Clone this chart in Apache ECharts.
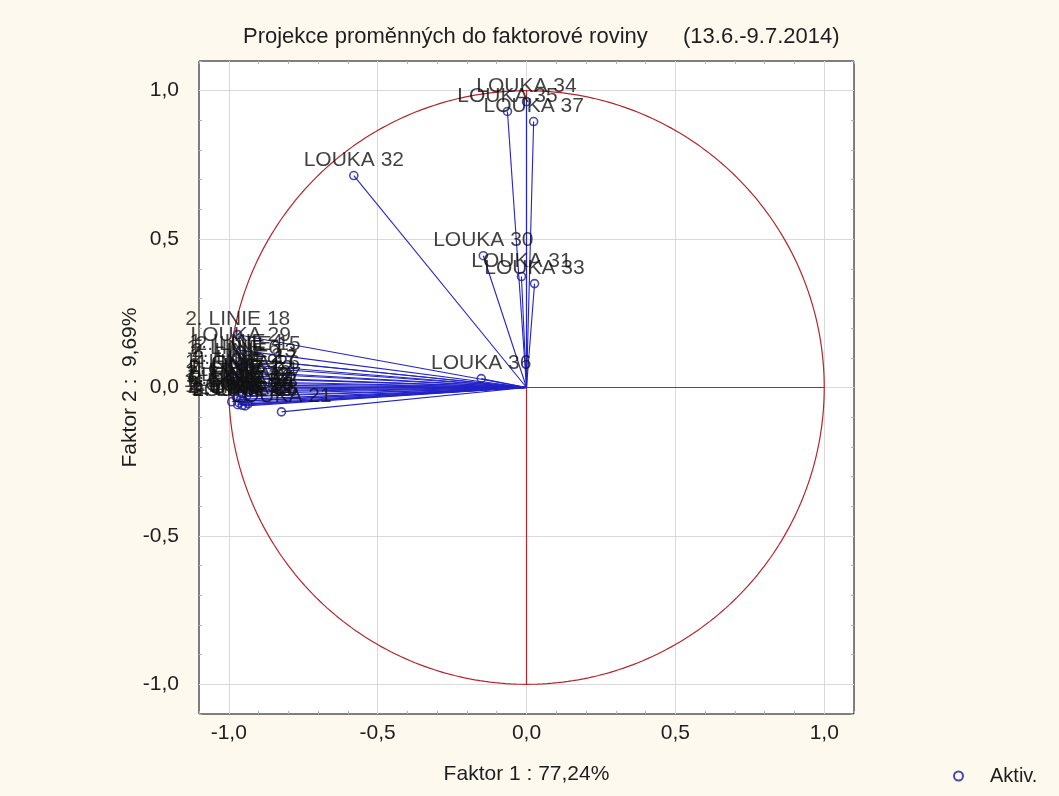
<!DOCTYPE html>
<html>
<head>
<meta charset="utf-8">
<title>Projekce proměnných do faktorové roviny</title>
<script src="https://cdn.jsdelivr.net/npm/echarts@6/dist/echarts.min.js"></script>
<style>
  html, body { margin: 0; padding: 0; background: #fdf9ee; }
  #chart { width: 1059px; height: 796px; }
</style>
</head>
<body>
<div id="chart"></div>
<script>
// Variable names and their loadings on factor 1 / factor 2
const names = [
  '2. LINIE 18', 'LOUKA 29', '1. LINIE 4', '2. LINIE 15', '1. LINIE 6',
  '2. LINIE 13', '1. LINIE 2', '2. LINIE 17', '1. LINIE 9', 'LOUKA 26',
  '1. LINIE 1', '2. LINIE 12', 'LOUKA 24', '1. LINIE 7', '2. LINIE 19',
  'LOUKA 27', '1. LINIE 3', '2. LINIE 14', 'LOUKA 22', '1. LINIE 10',
  '2. LINIE 20', 'LOUKA 25', '1. LINIE 5', '2. LINIE 11', 'LOUKA 28',
  '1. LINIE 8', '2. LINIE 16', 'LOUKA 23', 'LOUKA 21',
  'LOUKA 30', 'LOUKA 31', 'LOUKA 32', 'LOUKA 33', 'LOUKA 34',
  'LOUKA 35', 'LOUKA 36', 'LOUKA 37'
];
const factor1 = [
  -0.970, -0.960, -0.975, -0.935, -0.985,
  -0.950, -0.975, -0.945, -0.990, -0.930,
  -0.980, -0.960, -0.940, -0.990, -0.965,
  -0.925, -0.985, -0.955, -0.940, -0.975,
  -0.960, -0.950, -0.990, -0.965, -0.935,
  -0.970, -0.945, -0.955, -0.823,
  -0.145, -0.017, -0.580, 0.027, 0.000,
  -0.064, -0.152, 0.024
];
const factor2 = [
  0.178, 0.125, 0.100, 0.095, 0.080,
  0.070, 0.055, 0.048, 0.035, 0.030,
  0.020, 0.015, 0.008, 0.002, -0.005,
  -0.010, -0.015, -0.020, -0.028, -0.032,
  -0.040, -0.045, -0.048, -0.052, -0.055,
  -0.058, -0.062, -0.060, -0.082,
  0.444, 0.374, 0.714, 0.350, 0.963,
  0.930, 0.030, 0.896
];

// Axis ticks
const majorTicks = [-1, -0.5, 0, 0.5, 1];
const minorTicks = [-1.1, -0.9, -0.8, -0.7, -0.6, -0.4, -0.3, -0.2, -0.1,
                    0.1, 0.2, 0.3, 0.4, 0.6, 0.7, 0.8, 0.9, 1.1];

const FONT = "'Liberation Sans', Arial, sans-serif";
const AX_MIN = -1.1, AX_MAX = 1.1;
const RED = '#b3262c';
const fmt = v => v.toFixed(1).replace('.', ',');

const points = names.map((n, i) => ({ name: n, value: [factor1[i], factor2[i]] }));
const rays = names.map((n, i) => ({ coords: [[0, 0], [factor1[i], factor2[i]]] }));

// Unit circle of correlations
const circle = [];
for (let a = 0; a <= 360; a += 1) {
  const t = a * Math.PI / 180;
  circle.push([Math.cos(t), Math.sin(t)]);
}

function axisSet(dim) {
  const isX = dim === 'x';
  const sideA = isX ? 'bottom' : 'left';
  const sideB = isX ? 'top' : 'right';
  const base = { type: 'value', min: AX_MIN, max: AX_MAX, axisLine: { show: false, onZero: false },
                 splitLine: { show: false } };
  return [
    Object.assign({}, base, {
      position: sideA,
      axisTick: { inside: true, length: 6, customValues: majorTicks, lineStyle: { color: '#000', width: 1 } },
      axisLabel: { customValues: majorTicks, formatter: fmt, fontSize: 21, color: '#1e1e1e', fontFamily: FONT,
                   margin: isX ? 9 : 20 },
      name: isX ? 'Faktor 1 : 77,24%' : 'Faktor 2 :  9,69%',
      nameLocation: 'middle',
      nameMoveOverlap: false,
      nameGap: isX ? 50 : 58,
      nameTextStyle: { fontSize: 21, color: '#1e1e1e', fontFamily: FONT }
    }),
    Object.assign({}, base, {
      position: sideB,
      axisTick: { inside: true, length: 6, customValues: majorTicks, lineStyle: { color: '#000', width: 1 } },
      axisLabel: { show: false }
    }),
    Object.assign({}, base, {
      position: sideA,
      axisTick: { inside: true, length: 3, customValues: minorTicks, lineStyle: { color: '#b0b0b0', width: 1 } },
      axisLabel: { show: false }
    }),
    Object.assign({}, base, {
      position: sideB,
      axisTick: { inside: true, length: 3, customValues: minorTicks, lineStyle: { color: '#b0b0b0', width: 1 } },
      axisLabel: { show: false }
    })
  ];
}

const chart = echarts.init(document.getElementById('chart'), null, { renderer: 'canvas' });
chart.setOption({
  animation: false,
  backgroundColor: '#fdf9ee',
  textStyle: { fontFamily: FONT },
  title: [
    { text: 'Projekce proměnných do faktorové roviny', left: 238, top: 21,
      textStyle: { fontSize: 22, fontWeight: 'normal', color: '#1e1e1e', fontFamily: FONT } },
    { text: '(13.6.-9.7.2014)', left: 678, top: 21,
      textStyle: { fontSize: 22, fontWeight: 'normal', color: '#1e1e1e', fontFamily: FONT } }
  ],
  legend: {
    left: 948, top: 761,
    data: ['Aktiv.'],
    itemWidth: 9, itemHeight: 9,
    textStyle: { fontSize: 20, color: '#1e1e1e', fontFamily: FONT, padding: [0, 0, 0, 22] }
  },
  grid: {
    left: 199, right: 205, top: 61, bottom: 82,
    show: true, backgroundColor: '#ffffff', borderColor: '#000', borderWidth: 1
  },
  xAxis: axisSet('x'),
  yAxis: axisSet('y'),
  series: [
    {
      // major grid lines
      type: 'line', data: [], silent: true, z: 1,
      markLine: {
        silent: true, symbol: 'none', label: { show: false }, z: 1,
        lineStyle: { color: '#d9d9d9', width: 1, type: 'solid' },
        data: majorTicks.map(v => ({ xAxis: v })).concat(majorTicks.map(v => ({ yAxis: v })))
      }
    },
    {
      type: 'line', data: circle, showSymbol: false, silent: true, z: 2,
      lineStyle: { color: RED, width: 1.2 }
    },
    {
      type: 'line', data: [[-1, 0], [1, 0]], showSymbol: false, silent: true, z: 2,
      lineStyle: { color: RED, width: 1.2 }
    },
    {
      type: 'line', data: [[0, -1], [0, 1]], showSymbol: false, silent: true, z: 2,
      lineStyle: { color: RED, width: 1.2 }
    },
    {
      type: 'lines', coordinateSystem: 'cartesian2d', silent: true, z: 3,
      lineStyle: { color: '#2323c8', width: 1.1, opacity: 1 },
      data: rays
    },
    {
      name: 'Aktiv.', type: 'scatter', z: 4,
      symbol: 'circle', symbolSize: 8,
      itemStyle: { color: 'rgba(255,255,255,0)', borderColor: '#1c1c9c', borderWidth: 1.6 },
      label: {
        show: true, position: 'top', distance: 0,
        formatter: p => p.name,
        fontSize: 21, lineHeight: 21, color: '#111', fontFamily: FONT
      },
      labelLayout: { hideOverlap: false },
      data: points
    }
  ]
});
</script>
</body>
</html>
